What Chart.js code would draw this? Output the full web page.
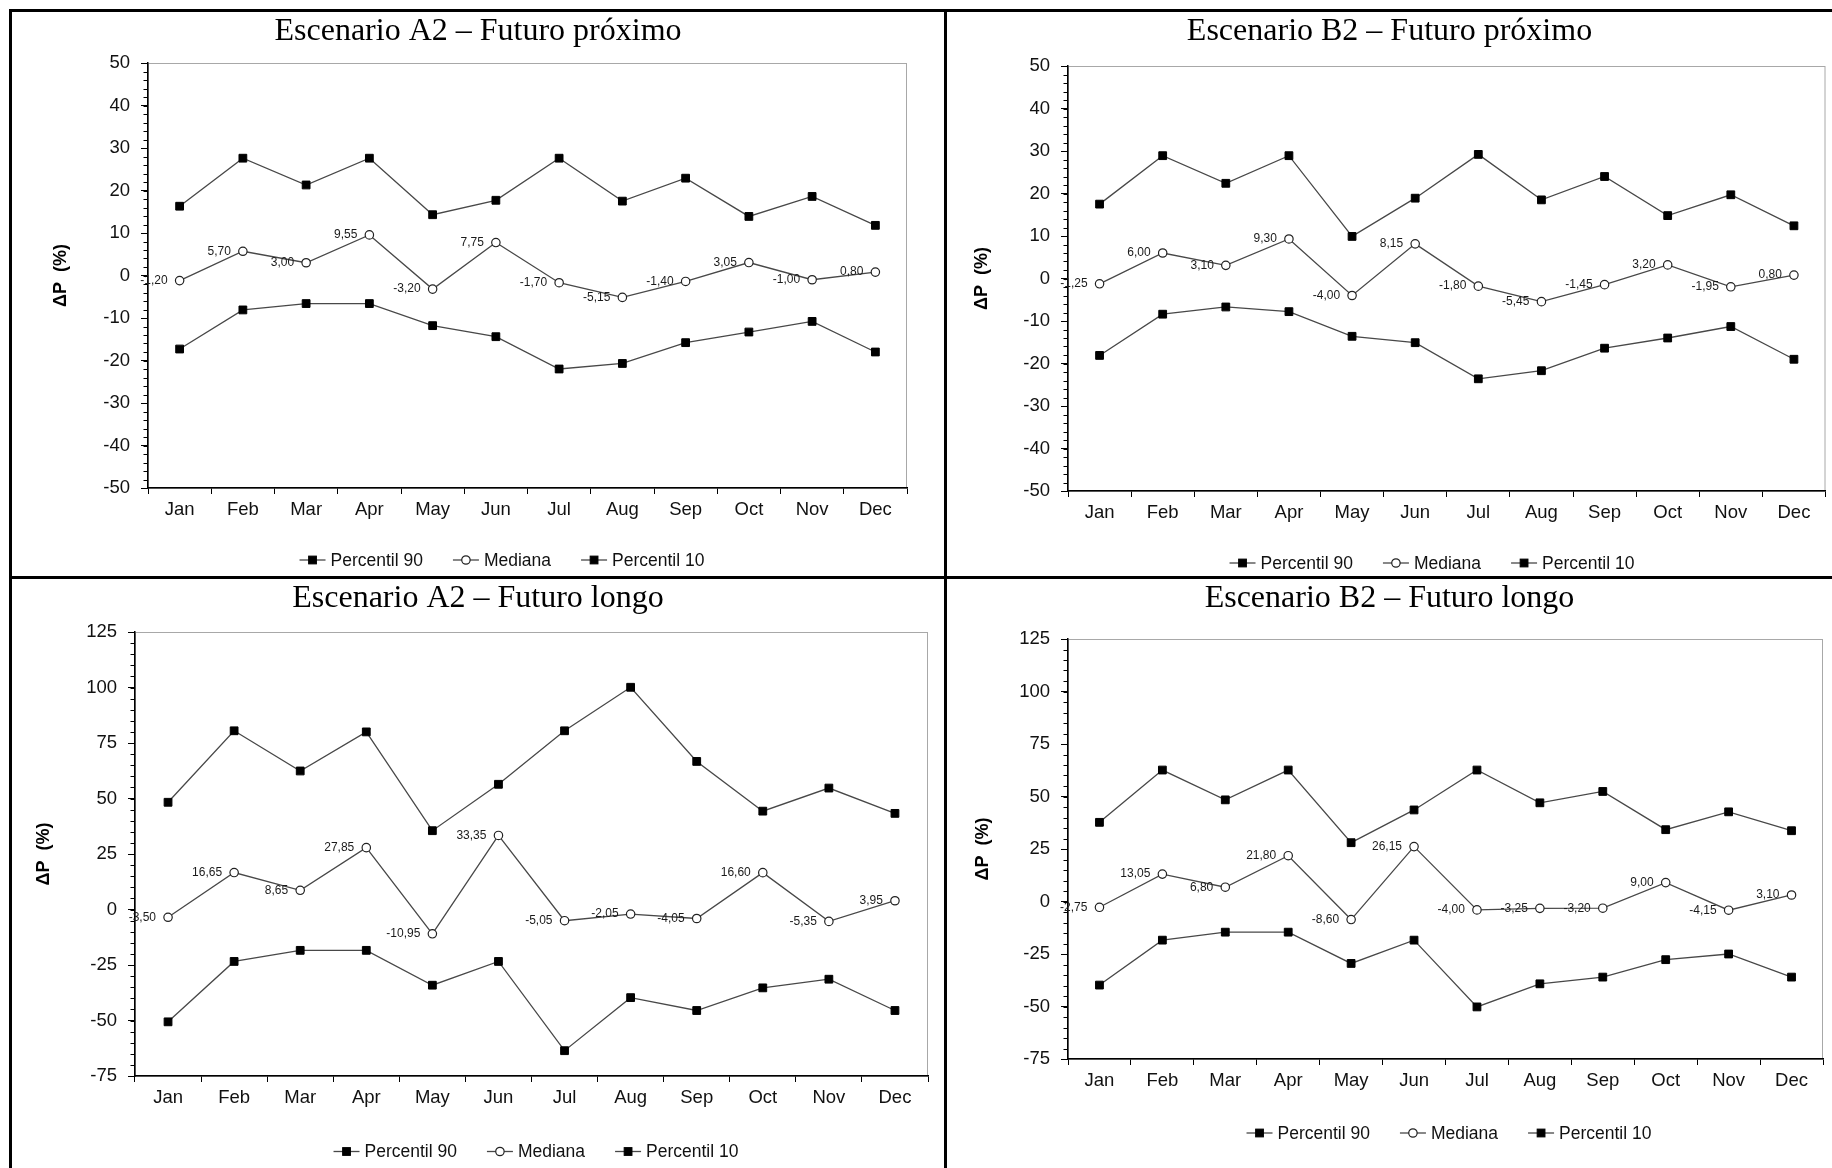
<!DOCTYPE html>
<html>
<head>
<meta charset="utf-8">
<title>Escenarios A2 / B2</title>
<script src="https://cdn.jsdelivr.net/npm/chart.js@4.4.1/dist/chart.umd.min.js"></script>
<style>
  html, body { margin: 0; padding: 0; background: #fff; width: 1832px; height: 1168px; overflow: hidden; }
  .rule { position: absolute; background: #000; }
  canvas { position: absolute; }
</style>
</head>
<body>
<div class="rule" style="left:9px;top:9px;width:1830px;height:3px"></div>
<div class="rule" style="left:9px;top:9px;width:3px;height:1165px"></div>
<div class="rule" style="left:944px;top:9px;width:3px;height:1165px"></div>
<div class="rule" style="left:9px;top:576px;width:1830px;height:3px"></div>

<canvas id="c-a2-near"></canvas>
<canvas id="c-b2-near"></canvas>
<canvas id="c-a2-long"></canvas>
<canvas id="c-b2-long"></canvas>

<script>
// ── data ──────────────────────────────────────────────────────────────────────
const MONTHS       = ['Jan','Feb','Mar','Apr','May','Jun','Jul','Aug','Sep','Oct','Nov','Dec']
const SERIES_NAMES = ['Percentil 90', 'Mediana', 'Percentil 10']
const Y_TITLE      = 'ΔP  (%)'

const A2_NEAR_P90 = [16.3, 27.6, 21.3, 27.6, 14.3, 17.7, 27.6, 17.5, 22.9, 13.9, 18.6, 11.8]
const A2_NEAR_MED = [-1.20, 5.70, 3.00, 9.55, -3.20, 7.75, -1.70, -5.15, -1.40, 3.05, -1.00, 0.80]
const A2_NEAR_P10 = [-17.3, -8.1, -6.6, -6.6, -11.8, -14.4, -22.0, -20.7, -15.8, -13.3, -10.8, -18.0]

const B2_NEAR_P90 = [17.5, 28.9, 22.4, 28.9, 9.9, 18.9, 29.2, 18.5, 24.0, 14.8, 19.7, 12.4]
const B2_NEAR_MED = [-1.25, 6.00, 3.10, 9.30, -4.00, 8.15, -1.80, -5.45, -1.45, 3.20, -1.95, 0.80]
const B2_NEAR_P10 = [-18.1, -8.4, -6.7, -7.8, -13.6, -15.1, -23.6, -21.7, -16.4, -14.0, -11.3, -19.0]

const A2_LONG_P90 = [48.3, 80.5, 62.4, 80.0, 35.5, 56.4, 80.5, 100.1, 66.7, 44.3, 54.7, 43.3]
const A2_LONG_MED = [-3.50, 16.65, 8.65, 27.85, -10.95, 33.35, -5.05, -2.05, -4.05, 16.60, -5.35, 3.95]
const A2_LONG_P10 = [-50.6, -23.4, -18.4, -18.4, -34.1, -23.4, -63.6, -39.7, -45.5, -35.3, -31.4, -45.5]

const B2_LONG_P90 = [37.7, 62.6, 48.4, 62.6, 28.0, 43.6, 62.6, 47.0, 52.4, 34.2, 42.7, 33.7]
const B2_LONG_MED = [-2.75, 13.05, 6.80, 21.80, -8.60, 26.15, -4.00, -3.25, -3.20, 9.00, -4.15, 3.10]
const B2_LONG_P10 = [-39.8, -18.4, -14.6, -14.6, -29.5, -18.4, -50.2, -39.2, -36.0, -27.7, -25.0, -36.0]

const NEAR_Y = { min: -50, max: 50,  step: 10, minor: 2 }
const LONG_Y = { min: -75, max: 125, step: 25, minor: 5 }

// ── layout (canvas box on the page, plot box inside the canvas) ──────────────
const PANELS = [
  { id: 'c-a2-near', title: 'Escenario A2 – Futuro próximo', y: NEAR_Y,
    series: [A2_NEAR_P90, A2_NEAR_MED, A2_NEAR_P10],
    left: 12, top: 12, w: 932, h: 564, plot: { l: 136, r: 895, t: 51, b: 476 },
    yTitleX: 49, legend: { x: 490, y: 548 } },
  { id: 'c-b2-near', title: 'Escenario B2 – Futuro próximo', y: NEAR_Y,
    series: [B2_NEAR_P90, B2_NEAR_MED, B2_NEAR_P10],
    left: 947, top: 12, w: 885, h: 564, plot: { l: 121, r: 880, t: 54, b: 479 },
    yTitleX: 35, legend: { x: 485, y: 551 } },
  { id: 'c-a2-long', title: 'Escenario A2 – Futuro longo', y: LONG_Y,
    series: [A2_LONG_P90, A2_LONG_MED, A2_LONG_P10],
    left: 12, top: 579, w: 932, h: 589, plot: { l: 123, r: 916, t: 53, b: 497 },
    yTitleX: 32, legend: { x: 524, y: 572.5 } },
  { id: 'c-b2-long', title: 'Escenario B2 – Futuro longo', y: LONG_Y,
    series: [B2_LONG_P90, B2_LONG_MED, B2_LONG_P10],
    left: 947, top: 579, w: 885, h: 589, plot: { l: 121, r: 876, t: 60, b: 480 },
    yTitleX: 36, legend: { x: 502, y: 554 } },
]

const SANS  = '"Liberation Sans", Arial, sans-serif'
const SERIF = '"Liberation Serif", "Times New Roman", serif'
const LINE  = '#484848'

Chart.defaults.font.family = SANS
Chart.defaults.color       = '#111'

// ── plugins ───────────────────────────────────────────────────────────────────
function marker(ctx, ds, x, y) {
  ctx.save()
  ctx.lineWidth   = ds.pointBorderWidth
  ctx.strokeStyle = ds.pointBorderColor
  ctx.fillStyle   = ds.pointBackgroundColor
  if (ds.pointStyle === 'rect') {
    const s = ds.pointRadius * Math.SQRT1_2
    ctx.fillRect(x - s, y - s, 2*s, 2*s)
    ctx.strokeRect(x - s, y - s, 2*s, 2*s)
  } else {
    ctx.beginPath(); ctx.arc(x, y, ds.pointRadius, 0, Math.PI*2)
    ctx.fill(); ctx.stroke()
  }
  ctx.restore()
}

// grey frame round the plot area (axes are drawn black over it)
const plotFrame = {
  id: 'plotFrame',
  beforeDraw(chart) {
    const { ctx, chartArea: a } = chart
    ctx.save()
    ctx.strokeStyle = '#a8a8a8'
    ctx.lineWidth   = 1
    ctx.strokeRect(a.left + 0.5, a.top + 0.5, a.right - a.left - 1, a.bottom - a.top)
    ctx.restore()
  }
}

// small outside ticks between the major ones
const minorTicks = {
  id: 'minorTicks',
  afterDraw(chart, _args, opts) {
    const { ctx, chartArea: a } = chart
    const ys = chart.scales.y
    ctx.save()
    ctx.strokeStyle = '#000'
    ctx.lineWidth   = 1
    ctx.beginPath()
    for (let v = ys.min; v <= ys.max; v += opts.step) {
      const py = Math.round(ys.getPixelForValue(v)) + 0.5
      ctx.moveTo(a.left - 4.5, py); ctx.lineTo(a.left, py)
    }
    ctx.stroke()
    ctx.restore()
  }
}

// value labels to the left of the median points
const medianLabels = {
  id: 'medianLabels',
  afterDatasetsDraw(chart) {
    const { ctx } = chart
    chart.data.datasets.forEach((ds, di) => {
      if (!ds._labels) return
      ctx.save()
      ctx.font         = `12px ${SANS}`
      ctx.fillStyle    = '#1a1a1a'
      ctx.textAlign    = 'right'
      ctx.textBaseline = 'middle'
      chart.getDatasetMeta(di).data.forEach((pt, j) => {
        ctx.fillText(ds.data[j].toFixed(2).replace('.', ','), pt.x - 12, pt.y)
      })
      ctx.restore()
    })
  }
}

// legend as a line with the marker on it, as the spreadsheet draws it
const legendLine = {
  id: 'legendLine',
  afterDraw(chart, _args, opts) {
    const { ctx } = chart
    const dss = chart.data.datasets
    const SYM = 26, TXT = 31, GAP = 30
    ctx.save()
    ctx.font = `17.5px ${SANS}`
    const widths = dss.map(ds => TXT + ctx.measureText(ds.label).width)
    let x = opts.x - (widths.reduce((s, w) => s + w, 0) + GAP * (dss.length - 1)) / 2
    dss.forEach((ds, i) => {
      ctx.strokeStyle = ds.borderColor
      ctx.lineWidth   = ds.borderWidth
      ctx.beginPath(); ctx.moveTo(x, opts.y); ctx.lineTo(x + SYM, opts.y); ctx.stroke()
      marker(ctx, ds, x + SYM/2, opts.y)
      ctx.fillStyle    = '#111'
      ctx.textAlign    = 'left'
      ctx.textBaseline = 'middle'
      ctx.fillText(ds.label, x + TXT, opts.y + 1)
      x += widths[i] + GAP
    })
    ctx.restore()
  }
}

// ── charts ────────────────────────────────────────────────────────────────────
function series(label, data, isMedian) {
  return {
    label, data,
    borderColor: LINE,
    borderWidth: 1.3,
    tension: 0,
    pointStyle:           isMedian ? 'circle' : 'rect',
    pointRadius:          isMedian ? 4.2 : 5.5,
    pointBackgroundColor: isMedian ? '#fff' : '#000',
    pointBorderColor:     isMedian ? '#222' : '#000',
    pointBorderWidth:     isMedian ? 1.2 : 1,
    _labels: isMedian,
  }
}

function panelChart(p) {
  const cv = document.getElementById(p.id)
  cv.width  = p.w
  cv.height = p.h
  cv.style.left = p.left + 'px'
  cv.style.top  = p.top + 'px'
  // same padding both sides so the title stays centred on the panel
  const side = p.w - p.plot.r

  new Chart(cv, {
    type: 'line',
    data: {
      labels:   MONTHS,
      datasets: p.series.map((d, i) => series(SERIES_NAMES[i], d, i === 1)),
    },
    options: {
      responsive: false,
      animation: false,
      devicePixelRatio: 1,
      layout: { padding: { top: 4, left: side, bottom: 0, right: side } },
      plugins: {
        legend:  { display: false },
        tooltip: { enabled: false },
        title: {
          display: true,
          text: p.title,
          color: '#000',
          font: { family: SERIF, size: 32, weight: 'normal', lineHeight: 1 },
          padding: { top: 0, bottom: p.plot.t - 36 },
        },
        minorTicks: { step: p.y.minor },
        legendLine: p.legend,
      },
      scales: {
        x: {
          offset: true,
          grid:   { offset: true, drawOnChartArea: false, tickLength: 6, color: '#000' },
          border: { color: '#000', width: 1.5 },
          ticks:  { font: { size: 18.5 }, padding: 5, color: '#111', maxRotation: 0 },
          afterFit: s => { s.height = p.h - p.plot.b },
        },
        y: {
          min: p.y.min, max: p.y.max,
          grid:   { drawOnChartArea: false, tickLength: 7, color: '#000' },
          border: { color: '#000', width: 1.5 },
          ticks:  { stepSize: p.y.step, font: { size: 18.5 }, padding: 11, color: '#111',
                    callback: v => String(v) },
          title:  { display: true, text: Y_TITLE, color: '#000',
                    font: { family: SANS, size: 18, weight: 'bold', lineHeight: 1 },
                    padding: { top: p.yTitleX - side - 9, bottom: 0 } },
          afterFit: s => { s.width = p.plot.l - side },
        },
      },
    },
    plugins: [plotFrame, minorTicks, medianLabels, legendLine],
  })
}

PANELS.forEach(panelChart)
</script>
</body>
</html>
